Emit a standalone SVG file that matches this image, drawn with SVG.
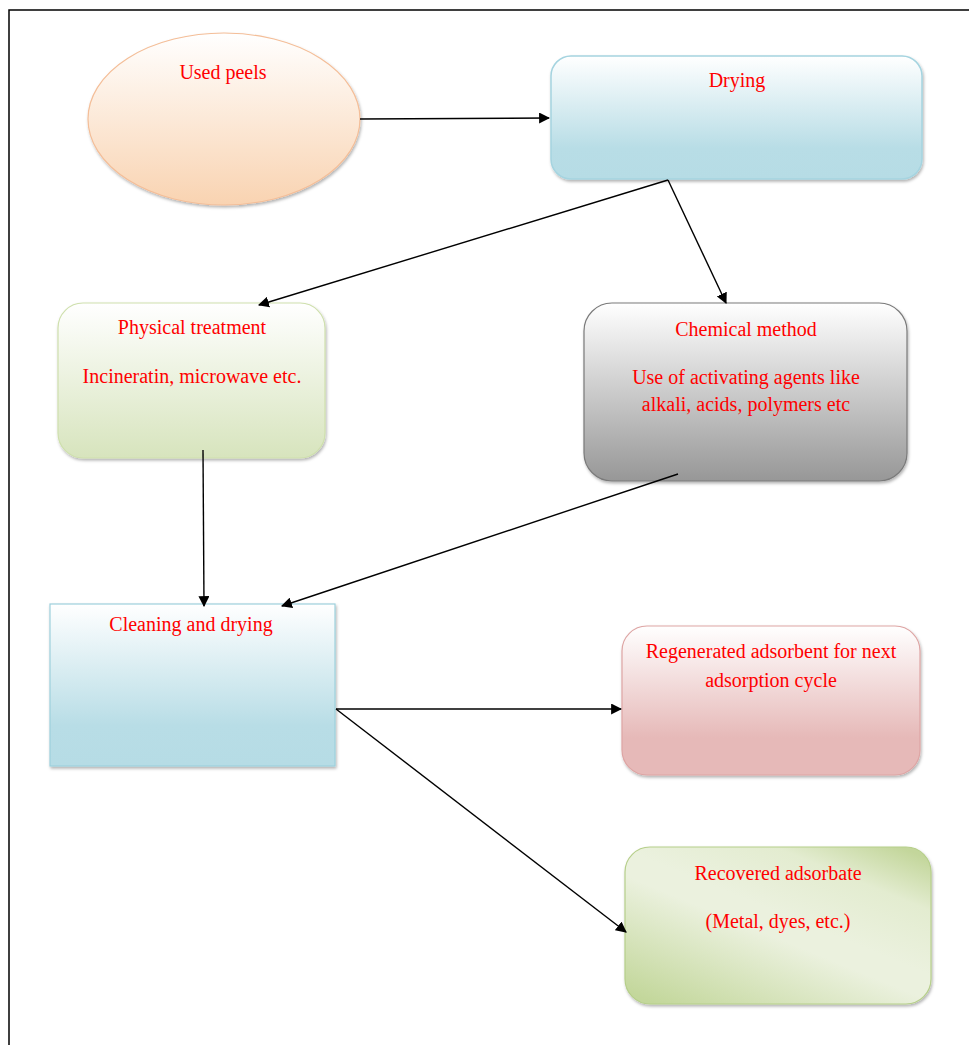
<svg xmlns="http://www.w3.org/2000/svg" width="969" height="1045" viewBox="0 0 969 1045">
<defs>
<linearGradient id="gPeach" x1="0" y1="0" x2="0" y2="1"><stop offset="0" stop-color="#ffffff"/><stop offset="1" stop-color="#f9d3b1"/></linearGradient>
<linearGradient id="gBlue" x1="0" y1="0" x2="0" y2="1"><stop offset="0" stop-color="#ffffff"/><stop offset="0.75" stop-color="#b8dde6"/><stop offset="1" stop-color="#b6dce5"/></linearGradient>
<linearGradient id="gGreen" x1="0" y1="0" x2="0" y2="1"><stop offset="0" stop-color="#ffffff"/><stop offset="1" stop-color="#d7e4bd"/></linearGradient>
<linearGradient id="gGray" x1="0" y1="0" x2="0" y2="1"><stop offset="0" stop-color="#ffffff"/><stop offset="1" stop-color="#979797"/></linearGradient>
<linearGradient id="gRed" x1="0" y1="0" x2="0" y2="1"><stop offset="0" stop-color="#ffffff"/><stop offset="0.75" stop-color="#e6b9b8"/><stop offset="1" stop-color="#e6b9b8"/></linearGradient>
<linearGradient id="gGreen2" x1="0.1" y1="1" x2="0.9" y2="0"><stop offset="0" stop-color="#c3d79b"/><stop offset="0.45" stop-color="#ebf1de"/><stop offset="0.55" stop-color="#ebf1de"/><stop offset="0.8" stop-color="#e3ecd0"/><stop offset="1" stop-color="#c3d69b"/></linearGradient>
<filter id="sh" x="-10%" y="-10%" width="120%" height="125%"><feDropShadow dx="1" dy="2" stdDeviation="1.5" flood-color="#000" flood-opacity="0.3"/></filter>
<marker id="ah" viewBox="0 0 10 10" refX="9" refY="5" markerWidth="11" markerHeight="11" markerUnits="userSpaceOnUse" orient="auto"><path d="M0,0 L10,5 L0,10 z" fill="#000"/></marker>
</defs>
<style>
text{font-family:"Liberation Serif","Times New Roman",serif;font-size:20px;fill:#ff0000;text-anchor:middle}
.c{stroke:#000;stroke-width:1.4;fill:none;marker-end:url(#ah)}
</style>
<rect x="0" y="0" width="969" height="1045" fill="#fff"/>
<rect x="9" y="10" width="980" height="1060" fill="none" stroke="#000" stroke-width="1.5"/>
<g id="used-peels">
<ellipse cx="224" cy="119" rx="136" ry="86" fill="url(#gPeach)" stroke="#f4be98" stroke-width="1.2" filter="url(#sh)"/>
<text x="223" y="79">Used peels</text>
</g>
<g id="drying">
<rect x="551" y="56" width="371" height="123" rx="20" fill="url(#gBlue)" stroke="#a5d4e0" stroke-width="1.5" filter="url(#sh)"/>
<text x="737" y="87">Drying</text>
</g>
<g id="physical">
<rect x="58" y="303" width="267" height="155" rx="25" fill="url(#gGreen)" stroke="#cfe0ad" stroke-width="1.2" filter="url(#sh)"/>
<text x="192" y="334">Physical treatment</text>
<text x="192" y="383">Incineratin, microwave etc.</text>
</g>
<g id="chemical">
<rect x="584" y="303" width="323" height="178" rx="28" fill="url(#gGray)" stroke="#7a7a7a" stroke-width="1.2" filter="url(#sh)"/>
<text x="746" y="336">Chemical method</text>
<text x="746" y="384">Use of activating agents like</text>
<text x="746" y="411">alkali, acids, polymers etc</text>
</g>
<g id="cleaning">
<rect x="50" y="604" width="285" height="162" fill="url(#gBlue)" stroke="#9dd0dd" stroke-width="1.2" filter="url(#sh)"/>
<text x="191" y="631">Cleaning and drying</text>
</g>
<g id="regenerated">
<rect x="622" y="626" width="298" height="149" rx="25" fill="url(#gRed)" stroke="#dea5a4" stroke-width="1.2" filter="url(#sh)"/>
<text x="771" y="658">Regenerated adsorbent for next</text>
<text x="771" y="687">adsorption cycle</text>
</g>
<g id="recovered">
<rect x="625" y="847" width="306" height="157" rx="25" fill="url(#gGreen2)" stroke="#b6cf8a" stroke-width="1.2" filter="url(#sh)"/>
<text x="778" y="880">Recovered adsorbate</text>
<text x="778" y="928">(Metal, dyes, etc.)</text>
</g>
<g id="connectors">
<line class="c" x1="360" y1="119" x2="549" y2="118"/>
<line class="c" x1="668" y1="180" x2="259" y2="305"/>
<line class="c" x1="668" y1="180" x2="726" y2="303"/>
<line class="c" x1="203" y1="450" x2="204" y2="606"/>
<line class="c" x1="678" y1="474" x2="282" y2="606"/>
<line class="c" x1="336" y1="709" x2="621" y2="709"/>
<line class="c" x1="336" y1="709" x2="626" y2="932"/>
</g>
</svg>
